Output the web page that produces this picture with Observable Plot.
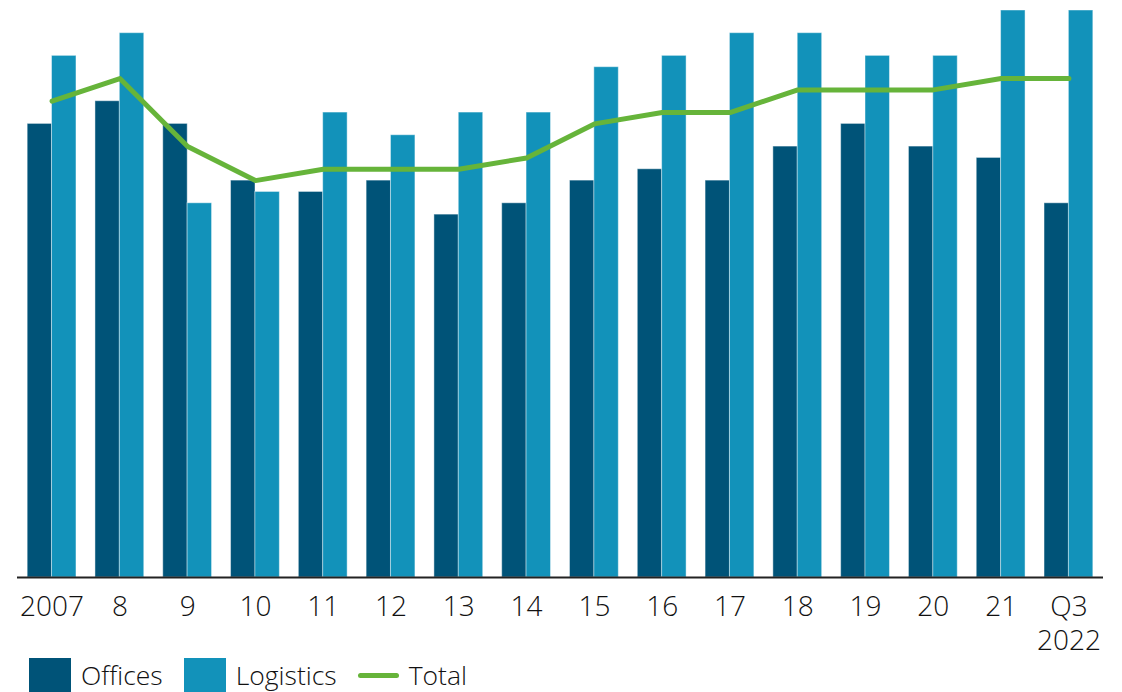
<!DOCTYPE html>
<html>
<head>
<meta charset="utf-8">
<script src="https://cdn.jsdelivr.net/npm/d3@7"></script>
<script src="https://cdn.jsdelivr.net/npm/@observablehq/plot@0.6"></script>
<style>
  html, body { margin: 0; padding: 0; background: #fff; }
  body { width: 1122px; height: 692px; overflow: hidden; font-family: "Open Sans", sans-serif; font-weight: 300; color: #111; }
  #chart svg { display: block; }
  #legend { position: relative; display: flex; align-items: center; margin-left: 29px; margin-top: -6px; font-size: 26.5px; line-height: 34px; }
  .item { display: flex; align-items: center; margin-right: 21px; }
  .sw { width: 42px; height: 34px; margin-right: 10px; }
  .ln { width: 41px; height: 5px; border-radius: 3px; margin-right: 10px; }
</style>
</head>
<body>
<div id="chart"></div>
<div id="legend"></div>
<script>
const years = ["2007","8","9","10","11","12","13","14","15","16","17","18","19","20","21","Q3\n2022"];
const offices = [40,42,40,35,34,35,32,33,35,36,35,38,40,38,37,33];
const logistics = [46,48,33,34,41,39,41,41,45,46,48,48,46,46,50,50];
const total = [42,44,38,35,36,36,36,37,40,41,41,43,43,43,44,44];
const seriesNames = ["Offices","Logistics","Total"];
const colors = ["#005378","#1292BA","#66B43A"];

const rows = years.map((y, i) => ({year: y, offices: offices[i], logistics: logistics[i], total: total[i]}));
const half = 24.35;

const chart = Plot.plot({
  width: 1122,
  height: 664,
  marginLeft: 17,
  marginRight: 19,
  marginTop: 10,
  marginBottom: 87,
  style: {fontFamily: "'Open Sans', sans-serif", fontWeight: 300, color: "#111", background: "transparent"},
  x: {type: "band", domain: years, paddingInner: 0.28, paddingOuter: 0.15, round: false, label: null},
  y: {domain: [0, 50], axis: null},
  marks: [
    Plot.barY(rows, {x: "year", y: "offices", fill: colors[0], insetRight: half, stroke: "#ffffff", strokeOpacity: 0.45, strokeWidth: 1}),
    Plot.barY(rows, {x: "year", y: "logistics", fill: colors[1], insetLeft: half, stroke: "#ffffff", strokeOpacity: 0.45, strokeWidth: 1}),
    Plot.ruleY([0], {stroke: "#222", strokeWidth: 2}),
    Plot.line(rows, {x: "year", y: "total", stroke: colors[2], strokeWidth: 5, strokeLinecap: "round", strokeLinejoin: "round"}),
    Plot.axisX({tickSize: 0, tickPadding: 15, fontSize: 28, lineHeight: 1.2, label: null, fill: "#111"})
  ]
});
document.getElementById("chart").appendChild(chart);

const legend = document.getElementById("legend");
seriesNames.forEach((name, i) => {
  const item = document.createElement("div");
  item.className = "item";
  const sw = document.createElement("div");
  sw.className = i < 2 ? "sw" : "ln";
  sw.style.background = colors[i];
  const t = document.createElement("span");
  t.textContent = name;
  item.appendChild(sw);
  item.appendChild(t);
  legend.appendChild(item);
});
</script>
</body>
</html>
